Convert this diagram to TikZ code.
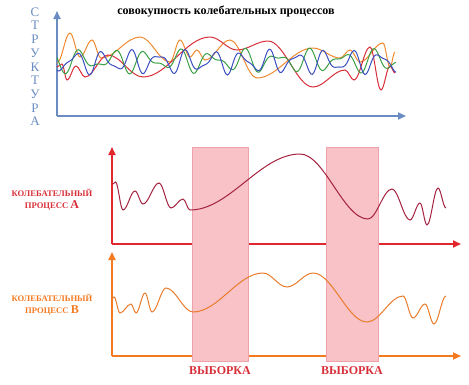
\documentclass[tikz,border=0pt]{standalone}
\usepackage{fontspec}
\setmainfont{Liberation Serif}
\usepackage{tikz}
\usetikzlibrary{arrows.meta, positioning}

\definecolor{osSiniy}{HTML}{6A8CC2}
\definecolor{osKrasn}{HTML}{E2262E}
\definecolor{osOranzh}{HTML}{F47A20}
\definecolor{krivA}{HTML}{A4213F}
\definecolor{krivB}{HTML}{E97C2C}
\definecolor{rozov}{HTML}{F8C2C6}
\definecolor{rozovKant}{HTML}{F0A2AA}
\definecolor{tOranzh}{HTML}{F08A30}
\definecolor{tKrasn}{HTML}{D8303A}
\definecolor{tZelen}{HTML}{3BA045}
\definecolor{tSiniy}{HTML}{3C4FC0}

\begin{document}
\begin{tikzpicture}[x=1pt,y=-1pt,
    os/.style={line width=1.8pt,-{Triangle[length=8pt,width=7pt]}},
    volna/.style={line width=1pt},
    vyborka/.style={rectangle,fill=rozov,draw=rozovKant,line width=0.6pt,inner sep=0,
      minimum width=56,minimum height=214},
    bukva/.style={font=\fontsize{13}{13}\selectfont,text=osSiniy,inner sep=0},
    podpis/.style={font=\bfseries\fontsize{8.6}{12}\selectfont,align=center,inner sep=0},
    vyb/.style={font=\bfseries\fontsize{12}{12}\selectfont,text=tKrasn,inner sep=0}]
  \useasboundingbox (0,0) rectangle (469,384);

  % верхний график: совокупность процессов
  \node[font=\bfseries\fontsize{12}{12}\selectfont,inner sep=0] (zagolovok) at (226,11)
    {совокупность колебательных процессов};
  \foreach \c [count=\i] in {С,Т,Р,У,К,Т,У,Р,А}
    \node[bukva] (s\i) at (35,{12+(\i-1)*13.7}) {\c};
  \coordinate (o0) at (57,116);
  \coordinate (x0) at (406,116);
  \coordinate (y0) at (57,11);
  \draw[os,osSiniy] (o0) -- (x0);
  \draw[os,osSiniy] (o0) -- (y0);

  % волны идут от экстремума к экстремуму, касательные горизонтальны
  \draw[volna,tOranzh] (57,63) \foreach \x/\y [remember=\x as \px (initially 57)] in
    {70/33,80/57,92/40,101/58,140/37,170/62,180/40,190/57,197/50,205/60,230/40,
    257/78,313/48,340/58,350/50,360/62,383/43,390/67,395/52}
    { .. controls +({0.36*(\x-\px)},0) and +({-0.36*(\x-\px)},0) .. (\x,\y) };
  \draw[volna,tKrasn] (57,67) \foreach \x/\y [remember=\x as \px (initially 57)] in
    {62/64,67/80,76/66,85/77,108/55,143/77,210/37,237/50,268/41,313/87,345/70,
    354/80,370/47,381/90,390/66,395/73}
    { .. controls +({0.36*(\x-\px)},0) and +({-0.36*(\x-\px)},0) .. (\x,\y) };
  \draw[volna,tZelen] plot[domain=57:396,samples=220,smooth]
    (\x,{61+8*sin(11*\x+100)+5*sin(17*\x+50)});
  \draw[volna,tSiniy] plot[domain=57:396,samples=220,smooth]
    (\x,{62+9*sin(13*\x+10)+4*sin(21*\x)});

  % процесс A
  \coordinate (oA) at (112,244);
  \coordinate (xA) at (461,244);
  \coordinate (yA) at (112,147);
  \draw[os,osKrasn] (oA) -- (xA);
  \draw[os,osKrasn] (oA) -- (yA);
  \node[podpis,text=tKrasn] (procA) at (52,200)
    {КОЛЕБАТЕЛЬНЫЙ\\ПРОЦЕСС {\fontsize{12}{12}\selectfont А}};

  % процесс B
  \coordinate (oB) at (112,356);
  \coordinate (xB) at (461,356);
  \coordinate (yB) at (112,252);
  \draw[os,osOranzh] (oB) -- (xB);
  \draw[os,osOranzh] (oB) -- (yB);
  \node[podpis,text=osOranzh] (procB) at (52,305)
    {КОЛЕБАТЕЛЬНЫЙ\\ПРОЦЕСС {\fontsize{12}{12}\selectfont В}};

  % выборки
  \node[vyborka] (w1) at (220,254.5) {};
  \node[vyborka,minimum width=52] (w2) at (352,254.5) {};
  \node[vyb,below=5pt of w1] (v1) {ВЫБОРКА};
  \node[vyb,below=5pt of w2] (v2) {ВЫБОРКА};

  \draw[volna,krivA] (113,184) \foreach \x/\y [remember=\x as \px (initially 113)] in
    {115.5/182,123/210,135/191,143/204,159/183,171/208,183/199,190/210,300/154,
    368/219,392/189,410/220,420/203,427/225,438/188,446/208}
    { .. controls +({0.36*(\x-\px)},0) and +({-0.36*(\x-\px)},0) .. (\x,\y) };
  \draw[volna,krivB] (113,298) \foreach \x/\y [remember=\x as \px (initially 113)] in
    {114/297,120/313,131/304,136/313,145/293,152/312,166/288,193/312,263/273,
    287/287,313/273,367/322,403/296,413/318,425/304,434/324,446/296}
    { .. controls +({0.36*(\x-\px)},0) and +({-0.36*(\x-\px)},0) .. (\x,\y) };
\end{tikzpicture}
\end{document}
